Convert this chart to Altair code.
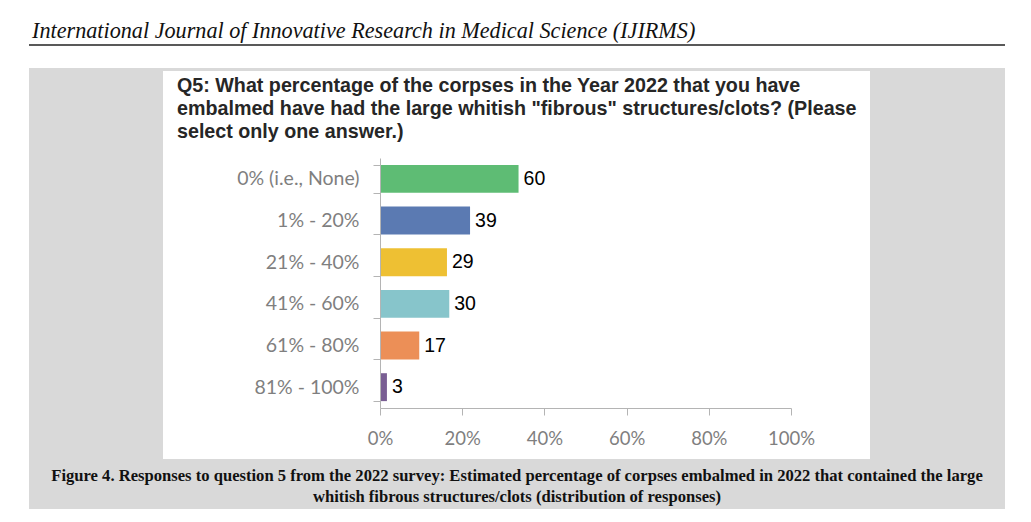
import altair as alt
import pandas as pd

HEADER = "International Journal of Innovative Research in Medical Science (IJIRMS)"
TITLE_LINES = [
    "Q5: What percentage of the corpses in the Year 2022 that you have",
    "embalmed have had the large whitish \"fibrous\" structures/clots? (Please",
    "select only one answer.)",
]
CAPTION_LINES = [
    "Figure 4. Responses to question 5 from the 2022 survey: Estimated percentage of corpses embalmed in 2022 that contained the large",
    "whitish fibrous structures/clots (distribution of responses)",
]
CATEGORIES = ["0% (i.e., None)", "1% - 20%", "21% - 40%", "41% - 60%", "61% - 80%", "81% - 100%"]
COUNTS = [60, 39, 29, 30, 17, 3]
COLORS = ["#5EBC74", "#5B7AB2", "#EEC033", "#87C5CB", "#EC8F57", "#795E93"]
X_TICKS = [0, 0.2, 0.4, 0.6, 0.8, 1.0]

df = pd.DataFrame({"answer": CATEGORIES, "count": COUNTS})
one = pd.DataFrame({"k": [0]})

AXIS_GRAY = "#b4b4b4"
LABEL_GRAY = "#7f7f7f"

base = alt.Chart(df).transform_joinaggregate(total="sum(count)").transform_calculate(
    pct="datum.count / datum.total"
)

y_enc = alt.Y(
    "answer:N",
    sort=CATEGORIES,
    scale=alt.Scale(paddingInner=0.33, paddingOuter=0.165),
    axis=alt.Axis(
        title=None, tickBand="extent", domainColor=AXIS_GRAY, tickColor=AXIS_GRAY,
        tickSize=7, labelPadding=14, labelFont="Lato", labelFontSize=19.5,
        labelColor=LABEL_GRAY, labelLimit=400, zindex=1,
    ),
)
x_enc = alt.X(
    "pct:Q",
    scale=alt.Scale(domain=[0, 1], nice=False),
    axis=alt.Axis(
        title=None, format=".0%", values=X_TICKS, grid=False, domainColor=AXIS_GRAY,
        tickColor=AXIS_GRAY, tickSize=7, labelPadding=14, labelFont="Lato",
        labelFontSize=18.5, labelColor=LABEL_GRAY, zindex=1, labelFlush=False,
    ),
)

bars = base.mark_bar().encode(
    x=x_enc,
    y=y_enc,
    color=alt.Color("answer:N", scale=alt.Scale(domain=CATEGORIES, range=COLORS), legend=None),
)
labels = base.mark_text(
    align="left", baseline="middle", dx=5, font="Liberation Sans", fontSize=19.5, color="#000000"
).encode(x="pct:Q", y=alt.Y("answer:N", sort=CATEGORIES), text="count:Q")

gray = alt.Chart(one).mark_rect(color="#d9d9d9").encode(
    x=alt.value(-351), x2=alt.value(625), y=alt.value(-90), y2=alt.value(351)
)
white = alt.Chart(one).mark_rect(color="#ffffff").encode(
    x=alt.value(-217), x2=alt.value(490), y=alt.value(-87), y2=alt.value(301)
)
rule = alt.Chart(one).mark_rule(color="#222222", strokeWidth=1.5).encode(
    x=alt.value(-351), x2=alt.value(625), y=alt.value(-113)
)
header = alt.Chart(one).mark_text(
    align="left", baseline="alphabetic", font="Liberation Serif", fontStyle="italic",
    fontSize=22.2, color="#111111"
).encode(x=alt.value(-348), y=alt.value(-120), text=alt.value(HEADER))
title = alt.Chart(one).mark_text(
    align="left", baseline="alphabetic", font="Liberation Sans", fontWeight="bold",
    fontSize=19.7, lineHeight=23, color="#262626"
).encode(x=alt.value(-203), y=alt.value(-66), text=alt.value(TITLE_LINES))
caption = alt.Chart(one).mark_text(
    align="center", baseline="alphabetic", font="Liberation Serif", fontWeight="bold",
    fontSize=16.6, lineHeight=21, color="#111111"
).encode(x=alt.value(137), y=alt.value(323), text=alt.value(CAPTION_LINES))

chart = alt.layer(gray, white, rule, header, title, caption, bars, labels).properties(
    width=411,
    height=250,
    padding={"left": 372, "top": 150, "right": 222, "bottom": 106},
    autosize="none",
    background="#ffffff",
).configure_view(strokeWidth=0)

chart.save("out.html", embed_options={"renderer": "svg", "actions": False})
